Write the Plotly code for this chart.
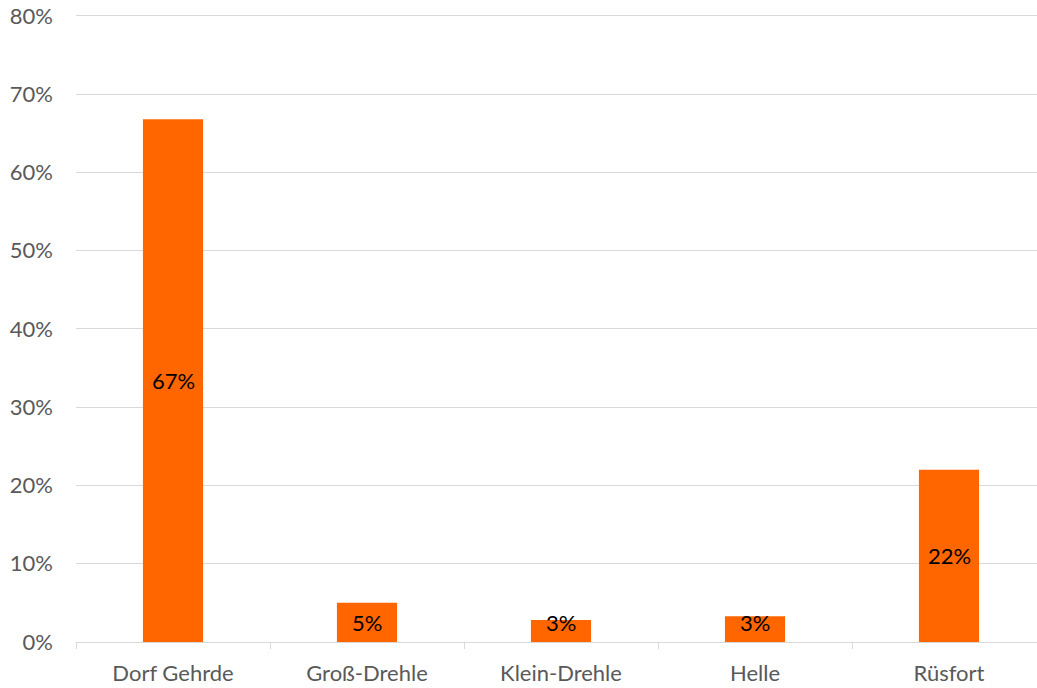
import plotly.graph_objects as go

categories = ["Dorf Gehrde", "Groß-Drehle", "Klein-Drehle", "Helle", "Rüsfort"]
values = [66.8, 5.0, 2.8, 3.3, 22.0]
labels = ["67%", "5%", "3%", "3%", "22%"]
y_ticks = [0, 10, 20, 30, 40, 50, 60, 70, 80]
y_ticktext = [f"{t}%" for t in y_ticks]

FONT = "Lato, 'Open Sans', sans-serif"
MIN_LABEL_Y = 2.5  # keep small-bar labels clear of the axis, as in the source

fig = go.Figure()
fig.add_trace(go.Bar(
    x=categories, y=values, marker=dict(color="#FF6600", line=dict(width=0)),
    width=0.31, hoverinfo="skip",
))
for c, v, t in zip(categories, values, labels):
    fig.add_annotation(x=c, y=max(v / 2, MIN_LABEL_Y), text=t, showarrow=False,
                       font=dict(family=FONT, size=22, color="#000000"),
                       yanchor="middle", xanchor="center")

fig.update_layout(
    width=1037, height=688,
    margin=dict(l=76, r=0, t=8, b=46),
    paper_bgcolor="white", plot_bgcolor="white",
    showlegend=False,
    font=dict(family=FONT, size=22, color="#595959"),
    xaxis=dict(
        range=[-0.5, -0.5 + 961 / 194], showgrid=False,
        showline=True, linecolor="#d9d9d9", linewidth=1,
        ticks="outside", tickson="boundaries", ticklen=6, tickcolor="#d9d9d9",
        tickfont=dict(family=FONT, size=22, color="#595959"),
        ticklabelstandoff=12,
    ),
    yaxis=dict(
        range=[0, 81], tickvals=y_ticks, ticktext=y_ticktext,
        showgrid=True, gridcolor="#d9d9d9", gridwidth=1,
        zeroline=False, showline=False, ticks="",
        tickfont=dict(family=FONT, size=22, color="#595959"),
        ticklabelstandoff=22,
    ),
)
fig.write_html("out.html", config={"displayModeBar": False},
               post_script="document.body.style.margin='0';document.body.style.padding='0';")
